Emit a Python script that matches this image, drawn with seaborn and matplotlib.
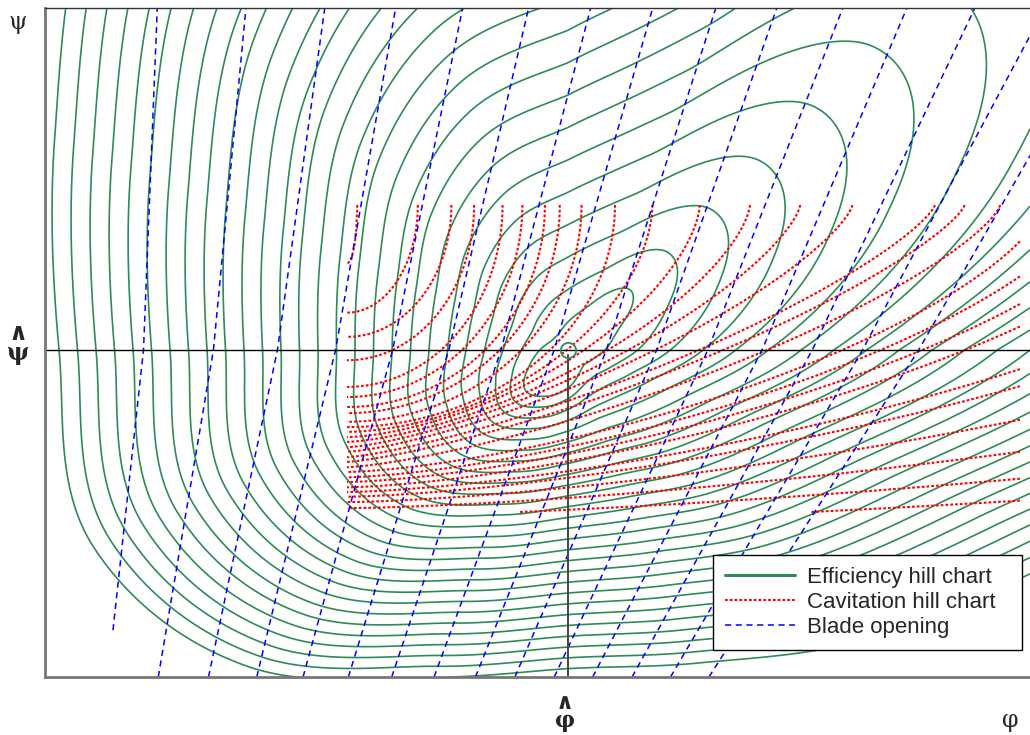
import numpy as np
import pandas as pd
import matplotlib
matplotlib.use("Agg")
import matplotlib.pyplot as plt
from matplotlib.lines import Line2D
import seaborn as sns

sns.set_theme(style="white")
plt.rcParams['font.family'] = ['Liberation Sans', 'DejaVu Sans']

## Best efficiency point (phi, psi in chart units, 0..1 over the frame) ##
phi_hat = 0.531
psi_hat = 0.489
view_scale = [9.85, 6.69]   # chart units -> drawing units (width / height)

## Efficiency hill chart: iso-efficiency rings around the best point ##
# radius of the first ring, ring spacing and spacing growth along 16 directions
ring_angle = [0, 22.5, 45, 67.5, 90, 112.5, 135, 157.5,
              180, 202.5, 225, 247.5, 270, 292.5, 315, 337.5]
ring_first = [0.37, 0.55, 0.86, 0.45, 0.28, 0.20, 0.18, 0.20,
              0.28, 0.42, 0.59, 0.50, 0.38, 0.27, 0.22, 0.26]
ring_step = [0.327, 0.50, 0.491, 0.39, 0.324, 0.297, 0.25, 0.206,
             0.185, 0.1815, 0.15, 0.117, 0.108, 0.12, 0.15, 0.1975]
ring_bend = [0, 0.03, 0.08, 0.015, 0, 0, 0, 0,
             0, 0, 0, 0, 0, 0, 0, 0]
eta_peak = 0.94
eta_levels = [0.67, 0.68, 0.69, 0.70, 0.71, 0.72, 0.73, 0.74, 0.75,
              0.76, 0.77, 0.78, 0.79, 0.80, 0.81, 0.82, 0.83, 0.84, 0.85,
              0.86, 0.87, 0.88, 0.89, 0.90, 0.91, 0.92, 0.93]

## Cavitation hill chart: reach of each iso-sigma line from the box corner ##
cav_corner = [0.3066, 0.7055]
cav_box = [0.3066, 0.9898, 0.2466, 0.7055]
cav_reach_phi = [0.010, 0.072, 0.106, 0.129, 0.158, 0.178, 0.201, 0.216, 0.238, 0.272,
                 0.310, 0.358, 0.409, 0.460, 0.513, 0.597, 0.627, 0.663, 0.707, 0.752,
                 0.802, 0.852, 0.997, 1.069, 1.290, 1.654, 2.162, 2.815, 3.553]
cav_reach_psi = [0.087, 0.161, 0.197, 0.232, 0.272, 0.287, 0.302, 0.311, 0.324, 0.332,
                 0.339, 0.347, 0.354, 0.362, 0.369, 0.377, 0.384, 0.392, 0.399, 0.407,
                 0.414, 0.422, 0.429, 0.436, 0.444, 0.453, 0.466, 0.481, 0.501]
cav_shape = [2.0, 2.0, 2.0, 2.0, 2.0, 2.0, 2.0, 2.0, 2.0, 2.0,
             1.8, 1.6, 1.5, 1.4, 1.35, 1.3, 1.3, 1.35, 1.5, 1.5,
             1.5, 1.5, 1.5, 1.5, 1.5, 1.5, 1.5, 1.5, 1.5]

## Blade opening lines: phi at start, at psi_hat and at top of frame ##
blade_psi_start = [0.070, 0, 0, 0, 0, 0, 0, 0, 0, 0, 0, 0, 0, 0, 0]
blade_phi_start = [0.069, 0.115, 0.166, 0.215, 0.262, 0.308, 0.352, 0.395, 0.437, 0.477,
                   0.517, 0.556, 0.596, 0.635, 0.674]
blade_phi_mid = [0.100, 0.171, 0.236, 0.295, 0.353, 0.410, 0.463, 0.517, 0.570, 0.621,
                 0.673, 0.728, 0.779, 0.830, 0.887]
blade_phi_top = [0.114, 0.204, 0.284, 0.356, 0.424, 0.491, 0.554, 0.617, 0.681, 0.743,
                 0.810, 0.875, 0.944, 1.015, 1.086]

green = "#2e8b57"


def ring_interp(theta, vals):
    # smooth periodic (Catmull-Rom) reading of a table given every 22.5 degrees
    v = np.asarray(vals, dtype=float)
    n = len(v)
    t = theta / (360.0 / n)
    i = np.floor(t).astype(int) % n
    f = t - np.floor(t)
    p0, p1, p2, p3 = v[(i - 1) % n], v[i], v[(i + 1) % n], v[(i + 2) % n]
    return 0.5 * (2 * p1 + (p2 - p0) * f + (2 * p0 - 5 * p1 + 4 * p2 - p3) * f ** 2
                  + (3 * p1 - p0 - 3 * p2 + p3) * f ** 3)


fig = plt.figure(figsize=(10.3, 7.35), dpi=100)
ax = fig.add_axes([45 / 1030, 58 / 735, 985 / 1030, 669 / 735])

# efficiency field: ring index grows by one every ring_step along each direction
PH, PS = np.meshgrid(np.linspace(0, 1, 1000), np.linspace(0, 1, 800))
U = (PH - phi_hat) * view_scale[0]
V = (PS - psi_hat) * view_scale[1]
rho = np.hypot(U, V)
th = np.degrees(np.arctan2(V, U)) % 360
grad = ring_interp(th, 1 / np.asarray(ring_step))
shift = ring_interp(th, np.asarray(ring_first) / np.asarray(ring_step))
bend = np.clip(ring_interp(th, ring_bend), 0, None)
lin = rho * grad - shift
ring = 1 + 2 * lin / (1 + np.sqrt(np.clip(1 + 4 * bend * lin, 1e-6, None)))
eta = eta_peak - 0.01 * ring
ax.contour(PH, PS, eta, levels=eta_levels, colors=green, linewidths=1.2, linestyles="solid")

# cavitation field: line index from the tabulated reaches
CP, CS = np.meshgrid(np.linspace(cav_box[0], cav_box[1], 700),
                     np.linspace(cav_box[2], cav_box[3], 450))
n_cav = len(cav_reach_phi)
idx = np.arange(n_cav + 2)
rx_tab = np.concatenate([[1e-4], cav_reach_phi, [cav_reach_phi[-1] * 3]])
ry_tab = np.concatenate([[1e-4], cav_reach_psi, [cav_reach_psi[-1] * 3]])
q_tab = np.concatenate([[2.0], cav_shape, [cav_shape[-1]]])
DX = CP - cav_corner[0]
DY = cav_corner[1] - CS
lo = np.zeros_like(DX)
hi = np.full_like(DX, n_cav + 1.0)
for _ in range(40):
    mid = (lo + hi) / 2
    q = np.interp(mid, idx, q_tab)
    g = (DX / np.interp(mid, idx, rx_tab)) ** q + (DY / np.interp(mid, idx, ry_tab)) ** q
    out = g > 1
    lo = np.where(out, mid, lo)
    hi = np.where(out, hi, mid)
sigma = (lo + hi) / 2
ax.contour(CP, CS, sigma, levels=np.arange(1, n_cav + 1), colors="red",
           linewidths=1.5, linestyles=[(0, (1.3, 1.0))])

# blade openings
rows = []
for i in range(len(blade_phi_mid)):
    for p, s in zip([blade_phi_start[i], blade_phi_mid[i], blade_phi_top[i]],
                    [blade_psi_start[i], psi_hat, 1.0]):
        rows.append({"phi": p, "psi": s, "line": i})
df_blade = pd.DataFrame(rows)
sns.lineplot(data=df_blade, x="phi", y="psi", units="line", estimator=None, sort=False,
             color="blue", linewidth=1.1, ax=ax, legend=False)
for l in ax.lines:
    l.set_dashes((4, 3))

# best point
ax.axhline(psi_hat, color="black", lw=1.0)
ax.plot([phi_hat, phi_hat], [0, psi_hat - 0.008], color="#444444", lw=1.4)
ax.plot([phi_hat], [psi_hat], marker="o", ms=11, mfc="none", mec=green, mew=1.3)

ax.set_xlim(0, 1)
ax.set_ylim(0, 1)
ax.set_xticks([])
ax.set_yticks([])
ax.set_xlabel("")
ax.set_ylabel("")
ax.spines["right"].set_visible(False)
for s in ["left", "bottom"]:
    ax.spines[s].set_color("#777777")
    ax.spines[s].set_linewidth(2)
ax.spines["top"].set_color("#333333")
ax.spines["top"].set_linewidth(1)

handles = [Line2D([], [], color=green, lw=2.2),
           Line2D([], [], color="red", lw=1.5, ls=(0, (1.3, 1.0))),
           Line2D([], [], color="blue", lw=1.1, ls=(0, (4, 3)))]
leg = ax.legend(handles, ["Efficiency hill chart", "Cavitation hill chart", "Blade opening"],
                loc="lower left", bbox_to_anchor=(0.678, 0.0404, 0.3137, 0.149),
                mode="expand", borderaxespad=0,
                fontsize=16, frameon=True, fancybox=False, framealpha=1, edgecolor="black",
                handlelength=3.15, handletextpad=0.55, labelspacing=0.17, borderpad=0.55)
leg.get_frame().set_linewidth(1.0)


def px(x, y):
    return x / 1030, 1 - y / 735


serif = ["DejaVu Serif", "DejaVu Sans"]
fig.text(*px(18, 22), "ψ", family=serif, fontsize=17, ha="center", va="center")
fig.text(*px(18, 343), "∧\nψ", family=serif, fontsize=17, fontweight="bold",
         ha="center", va="center", linespacing=0.8, multialignment="center")
fig.text(*px(565, 712), "∧\nφ", family=serif, fontsize=16, fontweight="bold",
         ha="center", va="center", linespacing=0.75, multialignment="center")
fig.text(*px(1010, 720), "φ", family=serif, fontsize=17, ha="center", va="center")

fig.savefig("out.png", dpi=100)
